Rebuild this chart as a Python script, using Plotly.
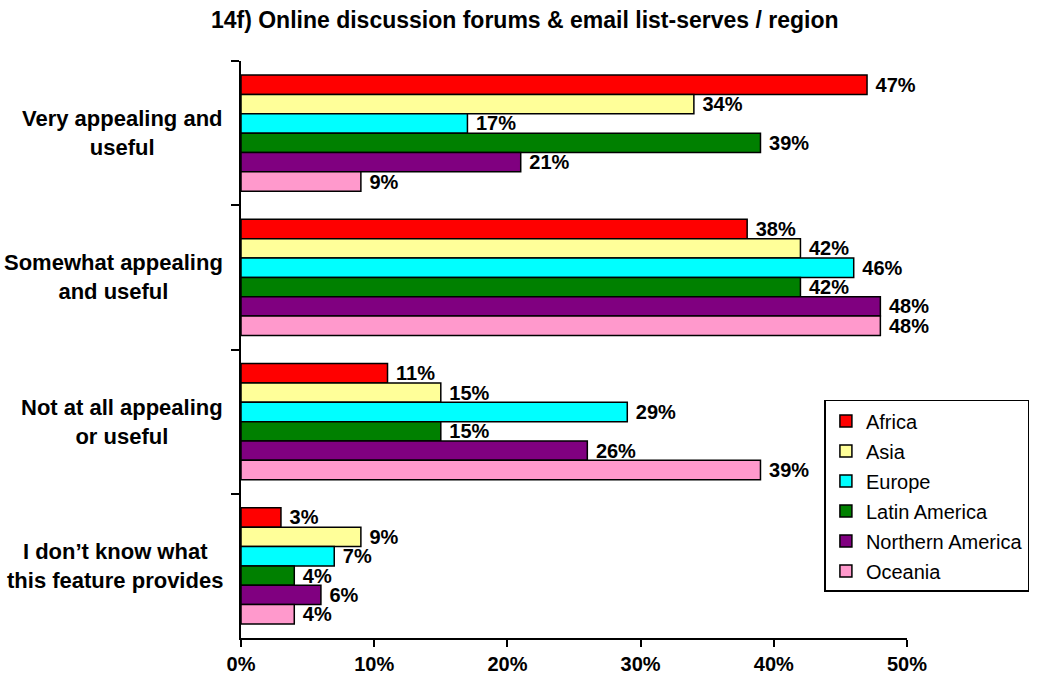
import plotly.graph_objects as go

# Response options (top to bottom) and regional shares in percent
categories = [
    "Very appealing and<br>useful",
    "Somewhat appealing<br>and useful",
    "Not at all appealing<br>or useful",
    "I don\u2019t know what<br>this feature provides",
]
regions = ["Africa", "Asia", "Europe", "Latin America", "Northern America", "Oceania"]
africa = [47, 38, 11, 3]
asia = [34, 42, 15, 9]
europe = [17, 46, 29, 7]
latin_america = [39, 42, 15, 4]
northern_america = [21, 48, 26, 6]
oceania = [9, 48, 39, 4]
series = [africa, asia, europe, latin_america, northern_america, oceania]
colors = ["#FF0000", "#FFFF99", "#00FFFF", "#008000", "#800080", "#FF99CC"]
x_ticks = [0, 10, 20, 30, 40, 50]

FONT = "Arial, Liberation Sans, sans-serif"

fig = go.Figure()
for name, vals, col in zip(regions, series, colors):
    fig.add_trace(go.Bar(
        y=categories,
        x=vals,
        name=name,
        orientation="h",
        marker=dict(color=col, line=dict(color="black", width=1.5)),
        # non-breaking space keeps a small gap between bar end and label
        text=[f"\u00a0{v}%" for v in vals],
        textposition="outside",
        textfont=dict(family=FONT, size=20, color="black", weight="bold"),
        constraintext="none",
        cliponaxis=False,
        legendgroup=name,
    ))

# Category labels drawn centred, right-aligned to the axis
for cat in categories:
    fig.add_annotation(
        x=-0.024, xref="paper", xanchor="right",
        y=cat, yref="y", yanchor="middle",
        text=cat, align="center", showarrow=False,
        font=dict(family=FONT, size=22, color="black", weight="bold"),
    )

fig.update_layout(
    width=1037, height=677,
    margin=dict(l=241, r=130, t=61, b=39, autoexpand=False),
    paper_bgcolor="white", plot_bgcolor="white",
    barmode="group", bargap=0.195, bargroupgap=0,
    title=dict(
        text="14f) Online discussion forums & email list-serves / region",
        x=0.506, xanchor="center", y=0.97, yanchor="middle",
        font=dict(family=FONT, size=23, color="black", weight="bold"),
    ),
    legend=dict(
        x=0.876, xanchor="left", y=0.4125, yanchor="top",
        bgcolor="white", bordercolor="black", borderwidth=1.5,
        font=dict(family=FONT, size=20, color="black"),
        tracegroupgap=1,
    ),
    xaxis=dict(
        range=[0, 50], tickvals=x_ticks, ticktext=[f"{t}%" for t in x_ticks],
        showline=True, linecolor="black", linewidth=2,
        ticks="outside", ticklen=7, tickwidth=2, tickcolor="black",
        showgrid=False, zeroline=False, automargin=False,
        tickfont=dict(family=FONT, size=20, color="black", weight="bold"),
        ticklabelstandoff=0,
    ),
    yaxis=dict(
        autorange="reversed", showticklabels=False,
        showline=True, linecolor="black", linewidth=2,
        ticks="outside", ticklen=8, tickwidth=2, tickcolor="black",
        tickson="boundaries", showgrid=False, automargin=False,
    ),
)

fig.write_html("out.html")
